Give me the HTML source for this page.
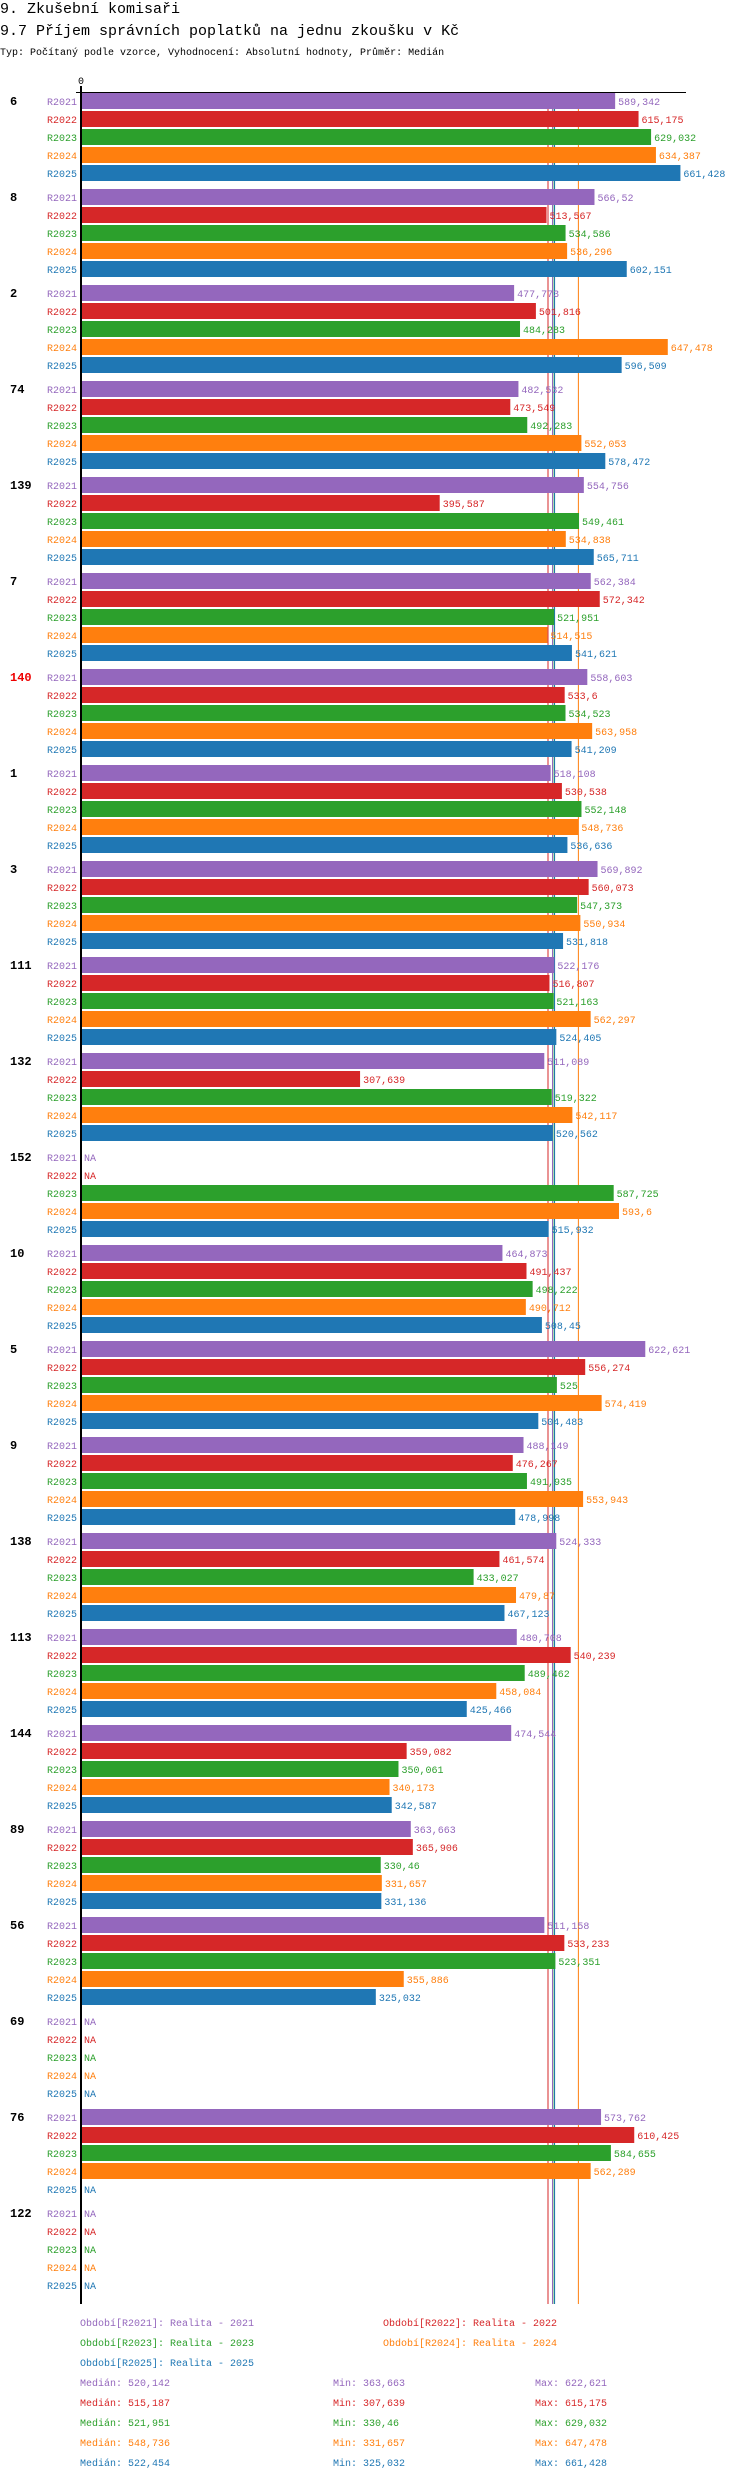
<!DOCTYPE html>
<html><head><meta charset="utf-8"><style>
body{margin:0;background:#fff;width:750px;height:2480px;overflow:hidden}
svg{display:block;font-family:"Liberation Mono",monospace}
</style></head><body>
<svg id="c" width="750" height="2480">
<text x="0" y="13" font-size="15">9. Zkušební komisaři</text>
<text x="0" y="35" font-size="15">9.7 Příjem správních poplatků na jednu zkoušku v Kč</text>
<text x="0" y="55" font-size="10">Typ: Počítaný podle vzorce, Vyhodnocení: Absolutní hodnoty, Průměr: Medián</text>
</svg>
<script>
const groups=["6","8","2","74","139","7","140","1","3","111","132","152","10","5","9","138","113","144","89","56","69","76","122"];
const series=["R2021","R2022","R2023","R2024","R2025"];
const colors=["#9467bd","#d62728","#2ca02c","#ff7f0e","#1f77b4"];
const v2021=[589.342,566.52,477.773,482.532,554.756,562.384,558.603,518.108,569.892,522.176,511.089,null,464.873,622.621,488.149,524.333,480.708,474.544,363.663,511.158,null,573.762,null];
const v2022=[615.175,513.567,501.816,473.549,395.587,572.342,533.6,530.538,560.073,516.807,307.639,null,491.437,556.274,476.267,461.574,540.239,359.082,365.906,533.233,null,610.425,null];
const v2023=[629.032,534.586,484.283,492.283,549.461,521.951,534.523,552.148,547.373,521.163,519.322,587.725,498.222,525,491.935,433.027,489.462,350.061,330.46,523.351,null,584.655,null];
const v2024=[634.387,536.296,647.478,552.053,534.838,514.515,563.958,548.736,550.934,562.297,542.117,593.6,490.712,574.419,553.943,479.87,458.084,340.173,331.657,355.886,null,562.289,null];
const v2025=[661.428,602.151,596.509,578.472,565.711,541.621,541.209,536.636,531.818,524.405,520.562,515.932,508.45,504.483,478.998,467.123,425.466,342.587,331.136,325.032,null,null,null];
const medians=[520.142,515.187,521.951,548.736,522.454];
const mins=["363,663","307,639","330,46","331,657","325,032"];
const maxs=["622,621","615,175","629,032","647,478","661,428"];
const legendNames=["Období[R2021]: Realita - 2021","Období[R2022]: Realita - 2022","Období[R2023]: Realita - 2023","Období[R2024]: Realita - 2024","Období[R2025]: Realita - 2025"];
const vals=[v2021,v2022,v2023,v2024,v2025];
const X0=81.5,K=0.9055,TOP=92,GP=96,RP=18;
const xs=v=>X0+v*K;
const yRow=(g,i)=>TOP+g*GP+i*RP+1;
const svg=document.getElementById('c');const NS="http://www.w3.org/2000/svg";
function mk(t,a,p){const e=document.createElementNS(NS,t);for(const k in a)e.setAttribute(k,a[k]);(p||svg).appendChild(e);return e;}
const fmt=v=>String(v).replace('.',',');
const bottom=TOP+groups.length*GP+4;
medians.forEach((m,i)=>{
  const l=mk('line',{x1:xs(m),x2:xs(m),y1:TOP,y2:bottom,stroke:colors[i],'stroke-width':1});
  
  
});
groups.forEach((g,gi)=>{
  const gl=mk('text',{x:10,y:yRow(gi,0)+12,'font-size':12,'font-weight':'bold',fill:g==="140"?"#e00":"#000"});gl.textContent=g;
  
  
  series.forEach((s,si)=>{
    const y=yRow(gi,si);
    const sl=mk('text',{x:77,y:y+12,'font-size':10,'text-anchor':'end',fill:colors[si]});sl.textContent=s;
    
    
    const v=vals[si][gi];
    if(v==null){
      const na=mk('text',{x:84,y:y+12,'font-size':10,fill:colors[si]});na.textContent="NA";
      
      
    }else{
      const r=mk('rect',{x:X0,y:y,width:xs(v)-X0,height:16,fill:colors[si]});
      
      
      const vl=mk('text',{x:xs(v)+3,y:y+12,'font-size':10,fill:colors[si]});vl.textContent=fmt(v);
      
      
    }
  });
});
const ax=mk('line',{x1:81,x2:81,y1:86,y2:bottom,stroke:'#000','stroke-width':2});


const tx=mk('line',{x1:76,x2:686,y1:92.5,y2:92.5,stroke:'#000','stroke-width':1});


const z=mk('text',{x:81,y:84,'font-size':10,'text-anchor':'middle'});z.textContent="0";


const lgPos=[[80,2326],[383,2326],[80,2346],[383,2346],[80,2366]];
legendNames.forEach((n,i)=>{
  const t=mk('text',{x:lgPos[i][0],y:lgPos[i][1],'font-size':10,fill:colors[i]});t.textContent=n;
  
  
});
medians.forEach((m,i)=>{
  const y=2386+i*20;
  const a=mk('text',{x:80,y:y,'font-size':10,fill:colors[i]});a.textContent="Medián: "+fmt(m);
  
  
  const b=mk('text',{x:333,y:y,'font-size':10,fill:colors[i]});b.textContent="Min: "+mins[i];
  
  
  const c=mk('text',{x:535,y:y,'font-size':10,fill:colors[i]});c.textContent="Max: "+maxs[i];
  
  
});
</script>
</body></html>
